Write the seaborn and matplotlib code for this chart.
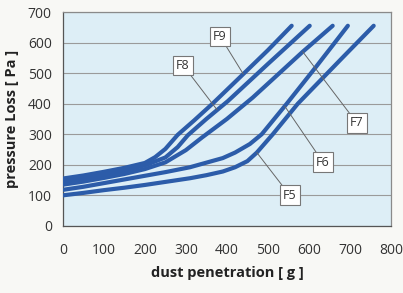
import matplotlib
matplotlib.use("Agg")
import matplotlib.pyplot as plt
import seaborn as sns
import pandas as pd

# curve data (dust in g, pressure loss in Pa)
f9_g = [0, 50, 100, 150, 200, 225, 250, 280, 320, 365, 440, 500, 558]
f9_pa = [155, 165, 177, 190, 206, 225, 252, 298, 345, 400, 497, 575, 655]

f8_g = [0, 50, 100, 150, 200, 250, 280, 305, 350, 402, 500, 602]
f8_pa = [145, 155, 167, 181, 198, 224, 258, 297, 350, 408, 530, 655]

f7_g = [0, 50, 100, 150, 200, 250, 300, 340, 400, 463, 520, 585, 658]
f7_pa = [135, 145, 157, 170, 186, 208, 248, 290, 350, 420, 490, 570, 655]

f6_g = [0, 50, 100, 150, 200, 250, 310, 350, 390, 420, 456, 485, 546, 620, 695]
f6_pa = [118, 128, 140, 152, 164, 176, 192, 207, 222, 240, 268, 300, 400, 525, 655]

f5_g = [0, 50, 100, 150, 200, 250, 310, 350, 390, 420, 450, 473, 512, 573, 680, 758]
f5_pa = [100, 108, 117, 125, 134, 144, 156, 166, 178, 192, 212, 240, 300, 400, 548, 655]

labels = ["F9", "F8", "F7", "F6", "F5"]
# where each label box sits and where its leader line meets the curve
label_pos = [(383, 621), (293, 526), (717, 337), (634, 209), (553, 101)]
label_hit = [(440, 497), (376, 380), (585, 570), (541, 392), (473, 240)]

xticks = [0, 100, 200, 300, 400, 500, 600, 700, 800]
yticks = [0, 100, 200, 300, 400, 500, 600, 700]

frames = []
for name, g, pa in zip(labels, [f9_g, f8_g, f7_g, f6_g, f5_g],
                       [f9_pa, f8_pa, f7_pa, f6_pa, f5_pa]):
    frames.append(pd.DataFrame({"dust": g, "pressure": pa, "filter": name}))
df = pd.concat(frames, ignore_index=True)

sns.set_style("white")
plt.rcParams["font.family"] = ["Open Sans", "DejaVu Sans"]

fig = plt.figure(figsize=(4.03, 2.93), dpi=100, facecolor="#f8f8f5")
ax = fig.add_axes([0.156, 0.229, 0.814, 0.730])
ax.set_facecolor("#ddeef6")

line_color = "#2c5ca9"
sns.lineplot(data=df, x="dust", y="pressure", hue="filter", sort=False,
             estimator=None, palette=[line_color] * 5, linewidth=3,
             legend=False, ax=ax, solid_capstyle="round",
             solid_joinstyle="round", zorder=3)

for name, pos, hit in zip(labels, label_pos, label_hit):
    ax.annotate(name, xy=hit, xytext=pos, fontsize=9, color="#333333",
                ha="center", va="center", zorder=4,
                bbox=dict(boxstyle="square,pad=0.25", fc="white", ec="#777777", lw=0.8),
                arrowprops=dict(arrowstyle="-", color="#666666", lw=0.7,
                                shrinkA=0, shrinkB=0))

ax.set_xlim(0, 800)
ax.set_ylim(0, 700)
ax.set_xticks(xticks)
ax.set_yticks(yticks)
ax.yaxis.grid(True, color="#9a9a9a", linewidth=0.8)
ax.set_axisbelow(True)

for side in ["top", "right", "bottom", "left"]:
    ax.spines[side].set_color("#8a8a8a")
    ax.spines[side].set_linewidth(0.9)
ax.spines["left"].set_color("#555555")
ax.spines["bottom"].set_color("#555555")

ax.tick_params(axis="both", direction="out", length=3, width=0.8,
               color="#666666", labelsize=10, labelcolor="#333333")
ax.tick_params(axis="x", pad=9)
ax.tick_params(axis="y", pad=5)

ax.set_xlabel("dust penetration [ g ]", fontsize=10.5, fontweight="bold",
              color="#222222", labelpad=6)
ax.set_ylabel("pressure Loss [ Pa ]", fontsize=10.5, fontweight="bold",
              color="#222222", labelpad=6)

plt.savefig("out.png", dpi=100, facecolor=fig.get_facecolor())
